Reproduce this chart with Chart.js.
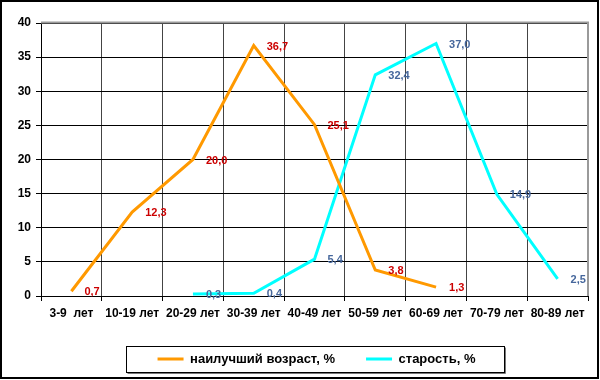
<!DOCTYPE html>
<html>
<head>
<meta charset="utf-8">
<script src="https://cdn.jsdelivr.net/npm/chart.js@4.4.1/dist/chart.umd.min.js"></script>
<style>
  html, body { margin: 0; padding: 0; background: #fff; }
  #wrap { width: 600px; height: 380px; position: relative; }
</style>
</head>
<body>
<div id="wrap"><canvas id="c" width="600" height="380"></canvas></div>
<script>
const categories = ["3-9  лет", "10-19 лет", "20-29 лет", "30-39 лет", "40-49 лет", "50-59 лет", "60-69 лет", "70-79 лет", "80-89 лет"];
const bestAge = [0.7, 12.3, 20.0, 36.7, 25.1, 3.8, 1.3, null, null];
const oldAge = [null, null, 0.3, 0.4, 5.4, 32.4, 37.0, 14.9, 2.5];
const seriesNames = ["наилучший возраст, %", "старость, %"];
const yTicks = { min: 0, max: 40, step: 5 };

Chart.defaults.font.family = "'Liberation Sans', Arial, sans-serif";
Chart.defaults.font.size = 12;
Chart.defaults.font.weight = 'bold';
Chart.defaults.color = '#000';

const labelColors = ['#CC0000', '#46679C'];
const legendFontSize = 13;

const dataLabels = {
  id: 'dataLabels',
  afterDatasetsDraw(chart) {
    const ctx = chart.ctx;
    ctx.save();
    ctx.font = "bold 11px 'Liberation Sans', Arial, sans-serif";
    ctx.textAlign = 'left';
    ctx.textBaseline = 'middle';
    chart.data.datasets.forEach((ds, di) => {
      const meta = chart.getDatasetMeta(di);
      ctx.fillStyle = labelColors[di];
      meta.data.forEach((pt, i) => {
        const v = ds.data[i];
        if (v === null || v === undefined) return;
        ctx.fillText(v.toFixed(1).replace('.', ','), pt.x + 13, pt.y + 1);
      });
    });
    ctx.restore();
  }
};

const frame = {
  id: 'frame',
  afterLayout(chart) {
    const lg = chart.legend;
    if (lg) {
      const w = 383;
      lg.left = 125; lg.right = lg.left + w; lg.width = w;
      const p = lg.options.labels.padding;
      const newTop = 359 - p - legendFontSize / 2;
      lg.bottom = newTop + lg.height; lg.top = newTop;
    }
  },
  afterDraw(chart) {
    const ctx = chart.ctx;
    const a = chart.chartArea;
    ctx.save();
    ctx.strokeStyle = '#9a9a9a';
    ctx.lineWidth = 2;
    ctx.beginPath();
    ctx.moveTo(a.left, a.top - 0.5);
    ctx.lineTo(a.right, a.top - 0.5);
    ctx.lineTo(a.right, a.bottom);
    ctx.stroke();
    const lg = chart.legend;
    if (lg && lg.legendHitBoxes && lg.legendHitBoxes.length) {
      const hb = lg.legendHitBoxes;
      const first = hb[0], last = hb[hb.length - 1];
      const cy = first.top + first.height / 2;
      const x0 = Math.round(first.left - 32) + 0.5;
      const x1 = Math.round(last.left + last.width + 29) + 0.5;
      const y0 = Math.round(cy - 13) + 0.5;
      ctx.strokeStyle = '#000';
      ctx.lineWidth = 1;
      ctx.strokeRect(x0, y0, x1 - x0, 26);
      ctx.strokeStyle = '#777';
      ctx.beginPath();
      ctx.moveTo(x0 + 1, y0 + 27);
      ctx.lineTo(x1 + 1, y0 + 27);
      ctx.lineTo(x1 + 1, y0 + 1);
      ctx.stroke();
    }
    ctx.strokeStyle = '#000';
    ctx.lineWidth = 2;
    ctx.strokeRect(1, 1, 597, 377);
    ctx.restore();
  }
};

new Chart(document.getElementById('c'), {
  type: 'line',
  data: {
    labels: categories,
    datasets: [
      { label: seriesNames[0], data: bestAge, borderColor: '#FF9900', backgroundColor: '#FF9900', borderWidth: 3, pointRadius: 0, tension: 0, spanGaps: false },
      { label: seriesNames[1], data: oldAge, borderColor: '#00FFFF', backgroundColor: '#00FFFF', borderWidth: 3, pointRadius: 0, tension: 0, spanGaps: false }
    ]
  },
  options: {
    responsive: false,
    animation: false,
    devicePixelRatio: 1,
    layout: { padding: { left: 0, right: 12, top: 23, bottom: 0 } },
    plugins: {
      tooltip: { enabled: false },
      legend: {
        position: 'bottom',
        labels: {
          boxWidth: 26,
          boxHeight: 3,
          padding: 31,
          color: '#000',
          font: { size: legendFontSize, weight: 'bold' },
          generateLabels(chart) {
            return chart.data.datasets.map((ds, i) => ({
              text: ds.label,
              fillStyle: ds.borderColor,
              strokeStyle: ds.borderColor,
              lineWidth: 0,
              hidden: false,
              datasetIndex: i
            }));
          }
        }
      }
    },
    scales: {
      x: {
        type: 'category',
        offset: true,
        afterFit(scale) { scale.height = 30; },
        grid: { offset: true, color: '#444', lineWidth: 1, tickLength: 5, tickColor: '#000', drawOnChartArea: true },
        border: { color: '#000', width: 1 },
        ticks: { padding: 5, color: '#000', font: { size: 12, weight: 'bold' }, maxRotation: 0, autoSkip: false }
      },
      y: {
        min: yTicks.min,
        max: yTicks.max,
        afterFit(scale) { scale.width = 41; },
        grid: { color: '#000', lineWidth: 1, tickLength: 5, tickColor: '#000' },
        border: { color: '#000', width: 1 },
        ticks: { stepSize: yTicks.step, padding: 5, color: '#000', font: { size: 12, weight: 'bold' } }
      }
    }
  },
  plugins: [dataLabels, frame]
});
</script>
</body>
</html>
